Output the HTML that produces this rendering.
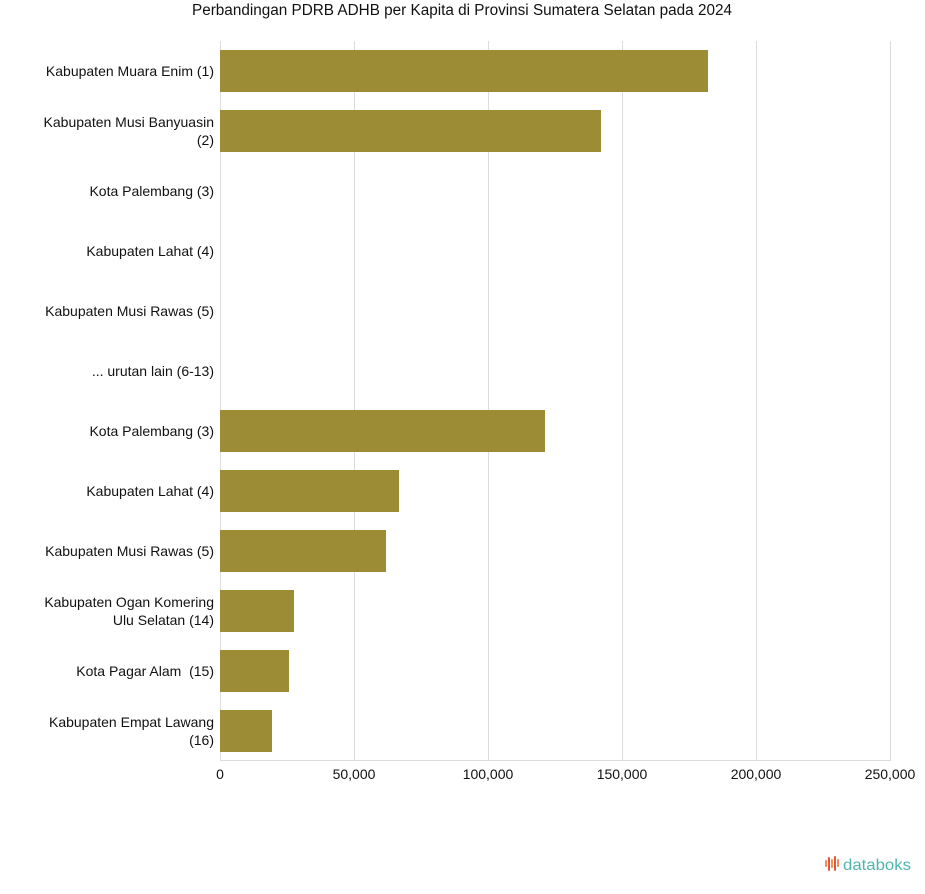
<!DOCTYPE html>
<html><head><meta charset="utf-8"><style>
html,body{margin:0;padding:0;background:#fff;}
svg{display:block;font-family:"Liberation Sans",Arial,sans-serif;}
</style></head><body>
<svg width="925" height="894" viewBox="0 0 925 894" xmlns="http://www.w3.org/2000/svg">
<rect width="925" height="894" fill="#fff"/>
<text x="462" y="15" font-size="15.3" text-anchor="middle" fill="#111">Perbandingan PDRB ADHB per Kapita di Provinsi Sumatera Selatan pada 2024</text>
<g stroke="#dcdcdc" stroke-width="1">
<line x1="220.5" y1="41" x2="220.5" y2="761"/>
<line x1="354.5" y1="41" x2="354.5" y2="761"/>
<line x1="488.5" y1="41" x2="488.5" y2="761"/>
<line x1="622.5" y1="41" x2="622.5" y2="761"/>
<line x1="756.5" y1="41" x2="756.5" y2="761"/>
<line x1="890.5" y1="41" x2="890.5" y2="761"/>
<line x1="220" y1="760.5" x2="891" y2="760.5"/>
</g>
<g fill="#9c8c36">
<rect x="220" y="50" width="488" height="42"/>
<rect x="220" y="110" width="381" height="42"/>
<rect x="220" y="410" width="325" height="42"/>
<rect x="220" y="470" width="179" height="42"/>
<rect x="220" y="530" width="166" height="42"/>
<rect x="220" y="590" width="74" height="42"/>
<rect x="220" y="650" width="69" height="42"/>
<rect x="220" y="710" width="52" height="42"/>
</g>
<g font-size="14" fill="#111" text-anchor="end">
<text x="214" y="76">Kabupaten Muara Enim (1)</text>
<text x="214" y="127">Kabupaten Musi Banyuasin</text>
<text x="214" y="145">(2)</text>
<text x="214" y="196">Kota Palembang (3)</text>
<text x="214" y="256">Kabupaten Lahat (4)</text>
<text x="214" y="316">Kabupaten Musi Rawas (5)</text>
<text x="214" y="376">... urutan lain (6-13)</text>
<text x="214" y="436">Kota Palembang (3)</text>
<text x="214" y="496">Kabupaten Lahat (4)</text>
<text x="214" y="556">Kabupaten Musi Rawas (5)</text>
<text x="214" y="607">Kabupaten Ogan Komering</text>
<text x="214" y="625">Ulu Selatan (14)</text>
<text x="214" y="676">Kota Pagar Alam&#160; (15)</text>
<text x="214" y="727">Kabupaten Empat Lawang</text>
<text x="214" y="745">(16)</text>
</g>
<g font-size="14" fill="#111" text-anchor="middle">
<text x="220" y="779">0</text>
<text x="354" y="779">50,000</text>
<text x="488" y="779">100,000</text>
<text x="622" y="779">150,000</text>
<text x="756" y="779">200,000</text>
<text x="890" y="779">250,000</text>
</g>
<g stroke-width="2" stroke-linecap="round">
<line x1="826" y1="861" x2="826" y2="866" stroke="#f08a5d"/>
<line x1="829" y1="858" x2="829" y2="870" stroke="#e8553e"/>
<line x1="832" y1="860" x2="832" y2="867" stroke="#f39a4a"/>
<line x1="835" y1="857" x2="835" y2="870" stroke="#e8553e"/>
<line x1="838" y1="860" x2="838" y2="866" stroke="#f08a5d"/>
</g>
<text x="843" y="870" font-size="16" fill="#4fb5b0" textLength="68" lengthAdjust="spacingAndGlyphs">databoks</text>
</svg>
</body></html>
